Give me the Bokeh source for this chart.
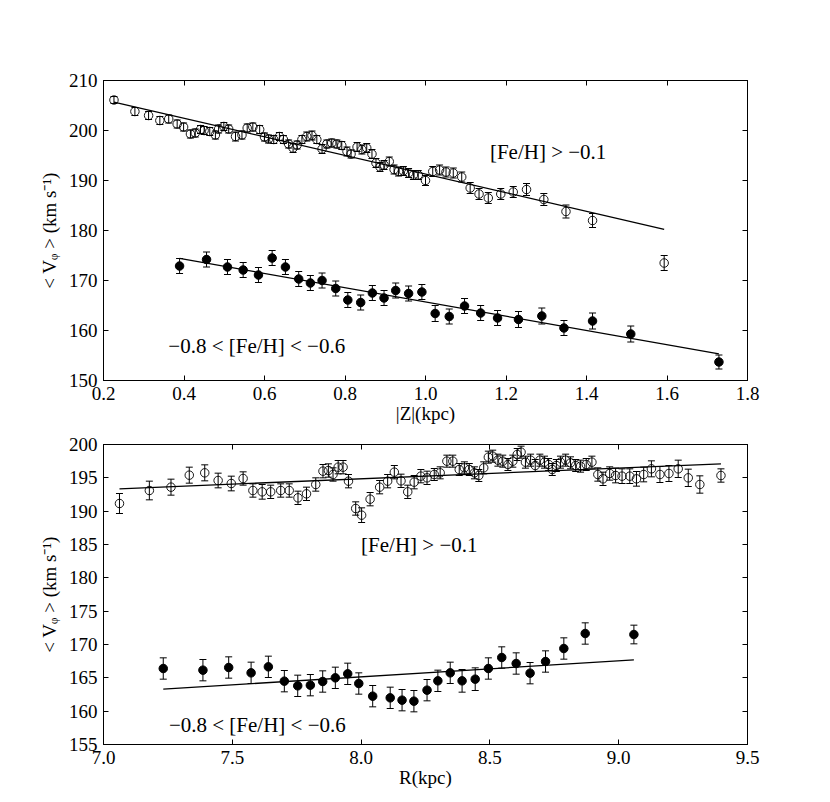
from bokeh.plotting import figure
from bokeh.models import (Range1d, FixedTicker, LinearAxis, Whisker, TeeHead,
                          ColumnDataSource, Label)
from bokeh.layouts import column
from bokeh.embed import file_html
from bokeh.resources import INLINE

# ---------------- data: top panel (|Z|) ----------------
z_rich = [0.226, 0.278, 0.312, 0.340, 0.362, 0.383, 0.399, 0.416, 0.428, 0.441,
          0.450, 0.464, 0.478, 0.486, 0.499, 0.511, 0.528, 0.544, 0.557, 0.571,
          0.588, 0.600, 0.610, 0.623, 0.637, 0.647, 0.660, 0.671, 0.681, 0.693,
          0.705, 0.718, 0.730, 0.743, 0.755, 0.767, 0.780, 0.792, 0.805, 0.815,
          0.830, 0.842, 0.854, 0.867, 0.877, 0.887, 0.897, 0.910, 0.922, 0.933,
          0.945, 0.958, 0.970, 0.982, 1.000, 1.018, 1.035, 1.051, 1.069, 1.090,
          1.111, 1.133, 1.156, 1.187, 1.218, 1.251, 1.294, 1.349, 1.415, 1.593]
v_z_rich = [206.1, 203.8, 203.0, 202.0, 202.3, 201.3, 200.7, 199.3, 199.5, 200.2,
            200.0, 199.8, 199.1, 200.3, 200.8, 200.3, 198.8, 199.1, 200.5, 200.7,
            200.2, 198.7, 198.3, 198.2, 198.8, 198.2, 197.3, 196.5, 197.1, 198.2,
            198.8, 199.0, 198.2, 196.3, 197.3, 197.5, 197.3, 197.0, 195.8, 195.3,
            196.7, 196.2, 196.5, 195.3, 193.5, 192.7, 193.1, 193.8, 192.2, 191.8,
            191.9, 191.5, 191.1, 191.1, 190.0, 191.8, 192.1, 191.7, 191.5, 190.7,
            188.5, 187.3, 186.5, 187.3, 187.7, 188.2, 186.2, 183.8, 182.0, 173.5]
e_z_rich = [0.7, 0.8, 0.8, 0.8, 0.8, 0.8, 0.8, 0.8, 0.8, 0.8,
            0.8, 0.8, 0.8, 0.8, 0.8, 0.8, 0.9, 0.8, 0.8, 0.8,
            0.8, 0.8, 0.8, 0.8, 0.8, 0.8, 0.8, 0.9, 0.8, 0.8,
            0.9, 0.9, 0.8, 0.9, 0.8, 0.8, 0.8, 0.8, 0.9, 0.8,
            0.9, 0.9, 0.9, 0.9, 0.9, 0.9, 0.9, 0.9, 0.9, 0.9,
            0.9, 0.9, 0.9, 0.9, 1.0, 1.0, 1.0, 1.0, 1.0, 1.0,
            1.1, 1.1, 1.1, 1.1, 1.1, 1.2, 1.2, 1.3, 1.4, 1.5]

z_poor = [0.389, 0.456, 0.508, 0.547, 0.585, 0.619, 0.652, 0.685, 0.714, 0.743,
          0.777, 0.807, 0.839, 0.868, 0.897, 0.926, 0.958, 0.991, 1.024, 1.059,
          1.097, 1.137, 1.179, 1.231, 1.289, 1.344, 1.415, 1.510, 1.729]
v_z_poor = [172.9, 174.2, 172.7, 172.1, 171.1, 174.5, 172.7, 170.3, 169.5, 170.0,
            168.4, 166.1, 165.6, 167.5, 166.5, 168.0, 167.4, 167.7, 163.4, 162.8,
            164.9, 163.5, 162.5, 162.2, 162.9, 160.5, 161.9, 159.3, 153.7]
e_z_poor = [1.5, 1.5, 1.5, 1.5, 1.5, 1.5, 1.5, 1.5, 1.5, 1.5,
            1.5, 1.5, 1.5, 1.5, 1.5, 1.5, 1.5, 1.5, 1.6, 1.5,
            1.5, 1.5, 1.5, 1.6, 1.6, 1.5, 1.6, 1.6, 1.4]

# linear fits (slope, intercept) for the top panel
fit_z_rich = (-18.61, 209.89)
fit_z_poor = (-14.25, 179.96)

# ---------------- data: bottom panel (R) ----------------
r_rich = [7.062, 7.178, 7.262, 7.333, 7.393, 7.445, 7.496, 7.542, 7.580, 7.616,
          7.649, 7.688, 7.721, 7.755, 7.788, 7.824, 7.852, 7.873, 7.891, 7.911,
          7.930, 7.951, 7.979, 8.002, 8.035, 8.072, 8.103, 8.129, 8.155, 8.181,
          8.206, 8.232, 8.256, 8.284, 8.307, 8.333, 8.356, 8.381, 8.401, 8.420,
          8.440, 8.457, 8.476, 8.494, 8.511, 8.531, 8.550, 8.570, 8.589, 8.606,
          8.621, 8.638, 8.658, 8.676, 8.694, 8.712, 8.728, 8.742, 8.758, 8.774,
          8.794, 8.813, 8.833, 8.852, 8.874, 8.896, 8.919, 8.939, 8.965, 8.988,
          9.013, 9.043, 9.069, 9.097, 9.127, 9.160, 9.195, 9.231, 9.270, 9.315,
          9.397]
v_r_rich = [191.15, 193.1, 193.6, 195.4, 195.75, 194.6, 194.15, 194.9, 193.1, 192.9,
            192.9, 193.1, 193.1, 192.0, 192.6, 194.0, 196.0, 196.1, 195.5, 196.6,
            196.6, 194.5, 190.4, 189.4, 191.8, 193.6, 194.5, 195.85, 194.55, 192.9,
            194.35, 195.25, 195.0, 195.5, 195.75, 197.5, 197.5, 196.25, 196.5, 196.25,
            195.75, 195.35, 196.5, 198.1, 198.25, 197.65, 197.5, 197.0, 197.5, 198.5,
            198.85, 197.35, 197.65, 196.85, 197.65, 197.35, 197.0, 196.25, 196.85, 197.35,
            197.65, 197.25, 196.85, 196.75, 197.0, 197.35, 195.5, 194.85, 195.65, 195.35,
            195.25, 195.25, 194.85, 195.5, 196.35, 195.5, 195.65, 196.35, 195.0, 194.0,
            195.35]
e_r_rich = [1.5, 1.4, 1.2, 1.2, 1.2, 1.1, 1.1, 1.0, 1.0, 1.1,
            1.0, 1.0, 1.0, 1.0, 1.0, 1.0, 1.0, 1.0, 1.0, 1.0,
            1.0, 1.0, 1.0, 1.1, 1.0, 1.0, 1.0, 1.0, 1.0, 1.0,
            1.0, 1.0, 1.0, 0.9, 0.9, 0.9, 0.9, 0.9, 0.9, 0.9,
            0.9, 0.9, 0.9, 0.9, 0.9, 0.9, 0.9, 0.9, 0.9, 0.9,
            0.9, 0.9, 0.9, 0.9, 0.9, 0.9, 0.9, 0.9, 0.9, 0.9,
            0.9, 0.9, 0.9, 0.9, 0.9, 0.9, 1.0, 1.0, 1.0, 1.1,
            1.1, 1.1, 1.1, 1.1, 1.2, 1.2, 1.2, 1.3, 1.3, 1.3,
            1.0]

r_poor = [7.232, 7.386, 7.486, 7.573, 7.640, 7.702, 7.754, 7.803, 7.851, 7.900,
          7.948, 7.991, 8.045, 8.113, 8.159, 8.205, 8.256, 8.298, 8.346, 8.392,
          8.443, 8.494, 8.546, 8.602, 8.656, 8.716, 8.787, 8.870, 9.059]
v_r_poor = [166.4, 166.15, 166.55, 165.75, 166.65, 164.5, 163.8, 163.9, 164.45, 165.0,
            165.6, 164.15, 162.25, 162.0, 161.65, 161.5, 163.15, 164.55, 165.75, 164.55,
            164.8, 166.4, 168.05, 167.15, 165.7, 167.45, 169.4, 171.65, 171.5]
e_r_poor = [1.6, 1.6, 1.6, 1.6, 1.6, 1.6, 1.6, 1.6, 1.6, 1.6,
            1.6, 1.6, 1.6, 1.6, 1.6, 1.6, 1.6, 1.6, 1.6, 1.7,
            1.7, 1.6, 1.6, 1.6, 1.6, 1.6, 1.6, 1.6, 1.4]

fit_r_rich = (1.606, 182.01)
fit_r_poor = (2.408, 145.89)

# ---------------- ticks and labels ----------------
z_ticks = [0.2, 0.4, 0.6, 0.8, 1.0, 1.2, 1.4, 1.6, 1.8]
z_tick_labels = ["0.2", "0.4", "0.6", "0.8", "1.0", "1.2", "1.4", "1.6", "1.8"]
vz_ticks = [150, 160, 170, 180, 190, 200, 210]
vz_tick_labels = ["150", "160", "170", "180", "190", "200", "210"]
r_ticks = [7.0, 7.5, 8.0, 8.5, 9.0, 9.5]
r_tick_labels = ["7.0", "7.5", "8.0", "8.5", "9.0", "9.5"]
vr_ticks = [155, 160, 165, 170, 175, 180, 185, 190, 195, 200]
vr_tick_labels = ["155", "160", "165", "170", "175", "180", "185", "190", "195", "200"]

label_rich = "[Fe/H] > \u22120.1"
label_poor = "\u22120.8 < [Fe/H] < \u22120.6"
y_title = "< V\u1d69 > (km s\u207b\u00b9)"

FONT = "Liberation Serif, serif"


def style_axis(ax, ticks, labels, show):
    ax.ticker = FixedTicker(ticks=ticks)
    ax.major_tick_in = 5
    ax.major_tick_out = 0
    ax.minor_tick_line_color = None
    ax.axis_line_color = "black"
    ax.axis_line_width = 1
    ax.major_tick_line_color = "black"
    ax.major_label_text_font = FONT
    ax.major_label_text_font_size = "19px"
    ax.major_label_text_color = "black"
    ax.major_label_standoff = 6
    ax.axis_label_text_font = FONT
    ax.axis_label_text_font_size = "19px"
    ax.axis_label_text_font_style = "normal"
    ax.axis_label_text_color = "black"
    if show:
        ax.major_label_overrides = dict(zip(ticks, labels))
    else:
        ax.major_label_overrides = {t: "" for t in ticks}
        ax.major_label_standoff = 0


def panel(xr, yr, xt, xtl, yt, ytl, xlabel, border_top, border_bottom):
    p = figure(frame_width=644, frame_height=300,
               x_range=Range1d(*xr), y_range=Range1d(*yr),
               output_backend="svg", toolbar_location=None,
               min_border_left=103, min_border_right=20,
               min_border_top=border_top, min_border_bottom=border_bottom,
               background_fill_color="white", border_fill_color="white")
    p.grid.visible = False
    p.outline_line_color = "black"
    p.outline_line_width = 1
    style_axis(p.xaxis[0], xt, xtl, True)
    style_axis(p.yaxis[0], yt, ytl, True)
    p.xaxis[0].axis_label = xlabel
    p.xaxis[0].axis_label_standoff = 0
    p.yaxis[0].axis_label = y_title
    p.yaxis[0].axis_label_standoff = 6
    top = LinearAxis()
    style_axis(top, xt, xtl, False)
    p.add_layout(top, "above")
    right = LinearAxis()
    style_axis(right, yt, ytl, False)
    p.add_layout(right, "right")
    return p


def add_series(p, xs, ys, es, filled, fit):
    src = ColumnDataSource(dict(x=xs, y=ys,
                                lo=[a - b for a, b in zip(ys, es)],
                                hi=[a + b for a, b in zip(ys, es)]))
    w = Whisker(source=src, base="x", lower="lo", upper="hi", dimension="height",
                line_color="black", line_width=1,
                lower_head=TeeHead(size=7, line_color="black", line_width=1),
                upper_head=TeeHead(size=7, line_color="black", line_width=1))
    p.add_layout(w)
    if filled:
        p.scatter("x", "y", source=src, marker="circle", size=8.5,
                  fill_color="black", line_color="black")
    else:
        p.scatter("x", "y", source=src, marker="circle", size=8.5,
                  fill_color=None, line_color="black", line_width=0.9)
    slope, icpt = fit
    x0, x1 = min(xs), max(xs)
    p.line([x0, x1], [icpt + slope * x0, icpt + slope * x1],
           line_color="black", line_width=1.3)


p1 = panel((0.2, 1.8), (150, 210), z_ticks, z_tick_labels, vz_ticks, vz_tick_labels,
           "|Z|(kpc)", 80, 50)
add_series(p1, z_rich, v_z_rich, e_z_rich, False, fit_z_rich)
add_series(p1, z_poor, v_z_poor, e_z_poor, True, fit_z_poor)
p1.add_layout(Label(x=1.16, y=195.7, text=label_rich, text_font=FONT,
                    text_font_size="21px", text_baseline="middle", text_align="left",
                    text_color="black"))
p1.add_layout(Label(x=0.361, y=156.9, text=label_poor, text_font=FONT,
                    text_font_size="21px", text_baseline="middle", text_align="left",
                    text_color="black"))

p2 = panel((7.0, 9.5), (155, 200), r_ticks, r_tick_labels, vr_ticks, vr_tick_labels,
           "R(kpc)", 14, 50)
add_series(p2, r_rich, v_r_rich, e_r_rich, False, fit_r_rich)
add_series(p2, r_poor, v_r_poor, e_r_poor, True, fit_r_poor)
p2.add_layout(Label(x=8.0, y=184.9, text=label_rich, text_font=FONT,
                    text_font_size="21px", text_baseline="middle", text_align="left",
                    text_color="black"))
p2.add_layout(Label(x=7.254, y=157.9, text=label_poor, text_font=FONT,
                    text_font_size="21px", text_baseline="middle", text_align="left",
                    text_color="black"))

layout = column(p1, p2)
open("out.html", "w").write(file_html(layout, INLINE))
